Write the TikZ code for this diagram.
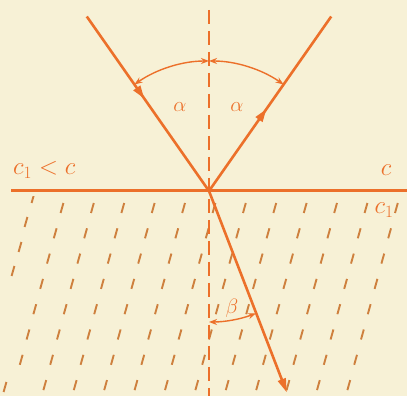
\documentclass[tikz,border=0pt]{standalone}
\usetikzlibrary{arrows.meta,decorations.markings}
\definecolor{bg}{RGB}{247,241,214}
\definecolor{ora}{RGB}{236,112,42}
\definecolor{hat}{RGB}{206,128,62}
\tikzset{
  ray/.style={draw=ora,line width=2.6pt},
  iface/.style={draw=ora,line width=3pt},
  normal/.style={draw=ora,line width=2pt,dash pattern=on 14pt off 7pt},
  anglearc/.style={draw=ora,line width=1.4pt,{Stealth[length=8pt,width=6pt]}-{Stealth[length=8pt,width=6pt]}},
  hatchmark/.style={draw=hat,line width=1.9pt},
  lbl/.style={text=ora,inner sep=0pt,font=\fontsize{20}{24}\selectfont},
  biglbl/.style={text=ora,inner sep=0pt,font=\fontsize{25}{30}\selectfont},
  midarrow/.style={postaction={decorate},decoration={markings,mark=at position #1 with {\arrow{Triangle[length=13pt,width=8pt]}}}}
}
\begin{document}
\begin{tikzpicture}[x=1pt,y=1pt]
\useasboundingbox (0,0) rectangle (407,396);
\fill[bg] (0,0) rectangle (407,396);
% hatching (medium c1)
\begin{scope}
\clip (0,0) rectangle (407,199);
\foreach \k in {0,...,7}{
  \foreach \j in {0,...,11}{
    \pgfmathsetmacro{\xx}{62+30.4*\j-6.8*\k}
    \pgfmathsetmacro{\yy}{188-25.3*\k}
    \ifnum\k=7 \ifnum\j=0 \else
      \draw[hatchmark] (\xx+1.4,\yy+5) -- (\xx-1.4,\yy-5);
    \fi\else
      \draw[hatchmark] (\xx+1.4,\yy+5) -- (\xx-1.4,\yy-5);
    \fi
  }
}
\foreach \xx/\yy in {33/198,26/174,20/149,13/125,5/9}{
  \draw[hatchmark] (\xx+1.4,\yy+5) -- (\xx-1.4,\yy-5);
}
\end{scope}
\coordinate (O) at (209,205);
\coordinate (A) at (86.8,379.5);
\coordinate (B) at (331.2,379.5);
\coordinate (R) at (286.8,3.5);
\coordinate (L) at (11,205);
\coordinate (Rt) at (407,205);
\coordinate (Ntop) at (209,386);
\coordinate (Nbot) at (209,0);
% normal
\draw[normal] (Ntop) -- (Nbot);
% interface
\draw[iface] (L) -- (Rt);
% rays
\draw[ray,midarrow=0.47] (A) -- (O);
\draw[ray,midarrow=0.47] (O) -- (B);
\draw[ray,-{Triangle[length=14pt,width=8pt]}] (O) -- (R);
% angle arcs
\draw[anglearc] ([shift={(125:130)}]O) arc (125:90:130);
\draw[anglearc] ([shift={(55:130)}]O) arc (55:90:130);
\draw[anglearc] ([shift={(-90:131)}]O) arc (-90:-69:131);
% labels
\node[lbl] (al1) at (180,289) {$\alpha$};
\node[lbl] (al2) at (237,289) {$\alpha$};
\node[lbl] (be) at (232,88) {$\beta$};
\node[biglbl,anchor=west] (c1c) at (13,226) {$c_1<c$};
\node[biglbl] (cc) at (386,226) {$c$};
\node[biglbl] (c1) at (384,186) {$c_1$};
\end{tikzpicture}
\end{document}
